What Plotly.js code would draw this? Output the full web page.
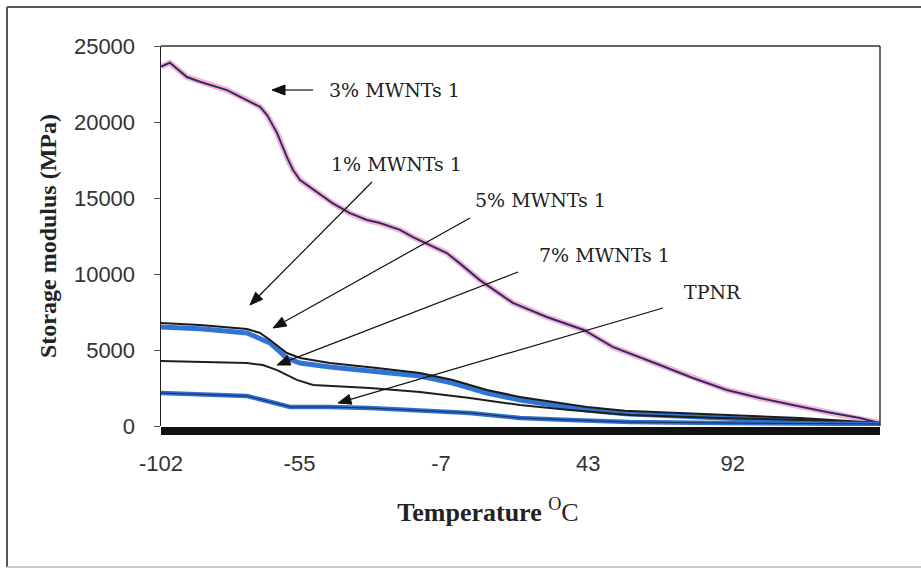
<!DOCTYPE html>
<html>
<head>
<meta charset="utf-8">
<script src="https://cdn.plot.ly/plotly-3.0.1.min.js"></script>
<style>html,body{margin:0;padding:0;background:#fff;}#chart{width:921px;height:571px;}</style>
</head>
<body>
<div id="chart"></div>
<script>
// ---- data ----
const seriesNames = ["3% MWNTs 1", "1% MWNTs 1", "5% MWNTs 1", "7% MWNTs 1", "TPNR"];

const tempMWNT3 = [-102, -99, -93.2, -88.8, -79.6, -72.8, -68.4, -66.0, -62.6, -59.3, -57.2, -54.8, -49.1, -43.7, -37.9, -32.1, -27.7, -20.9, -16.5, -9.7, -5.0, -0.6, 6.2, 17.4, 23.2, 28.9, 41.5, 51.3, 67.3, 78.5, 90.0, 101.2, 112.4, 123.9, 135.1, 141.9];
const modMWNT3  = [23650, 23900, 22960, 22650, 22100, 21450, 21000, 20460, 19270, 17700, 16840, 16180, 15400, 14650, 14000, 13550, 13350, 12900, 12430, 11800, 11380, 10700, 9600, 8100, 7650, 7170, 6320, 5200, 4010, 3160, 2370, 1840, 1380, 920, 530, 200];

const tempMWNT1 = [-102, -88.8, -72.8, -68.4, -65.0, -59.3, -54.8, -44.7, -28.7, -14.1, -3.0, 8.6, 19.8, 31.0, 42.5, 55.4, 87.6, 114.8, 141.9];
const modMWNT1  = [6780, 6650, 6380, 6120, 5660, 4800, 4470, 4140, 3820, 3490, 3030, 2370, 1910, 1580, 1250, 1000, 720, 530, 200];

const tempMWNT5 = [-102, -88.8, -72.8, -65.0, -59.3, -54.8, -44.7, -28.7, -14.1, -3.0, 8.6, 19.8, 31.0, 42.5, 55.4, 87.6, 114.8, 141.9];
const modMWNT5  = [6510, 6400, 6120, 5460, 4470, 4140, 3880, 3550, 3290, 2830, 2170, 1710, 1380, 1050, 800, 530, 350, 100];

const tempMWNT7 = [-102, -72.8, -67.4, -62.6, -55.9, -50.4, -31.1, -14.1, 2.8, 19.8, 36.7, 57.1, 87.6, 114.8, 141.9];
const modMWNT7  = [4280, 4140, 4010, 3680, 3030, 2700, 2500, 2240, 1840, 1380, 1050, 720, 530, 400, 200];

const tempTPNR  = [-102, -88.8, -72.8, -67.4, -58.2, -44.7, -31.1, 2.8, 19.8, 36.7, 57.1, 87.6, 141.9];
const modTPNR   = [2170, 2100, 1970, 1710, 1250, 1250, 1180, 860, 530, 400, 260, 200, 130];

const xTickVals = [-102, -55, -7, 43, 92];
const xTickText = ["-102", "-55", "-7", "43", "92"];
const yTickVals = [0, 5000, 10000, 15000, 20000, 25000];
const yTickText = ["0", "5000", "10000", "15000", "20000", "25000"];

// ---- chart ----
const traces = [
  {x: tempMWNT3, y: modMWNT3, mode: "lines", line: {color: "rgba(240,150,190,0.7)", width: 6}, hoverinfo: "skip", name: seriesNames[0]},
  {x: tempMWNT3, y: modMWNT3, mode: "lines", line: {color: "#2e2b6e", width: 2}, name: seriesNames[0]},
  {x: tempMWNT5, y: modMWNT5, mode: "lines", line: {color: "#2f74d6", width: 5}, name: seriesNames[2]},
  {x: tempMWNT1, y: modMWNT1, mode: "lines", line: {color: "#1a1a1a", width: 2}, name: seriesNames[1]},
  {x: tempMWNT7, y: modMWNT7, mode: "lines", line: {color: "#1f1f14", width: 2}, name: seriesNames[3]},
  {x: tempTPNR,  y: modTPNR,  mode: "lines", line: {color: "#2f6fd0", width: 4.5}, name: seriesNames[4]},
  {x: tempTPNR,  y: modTPNR,  mode: "lines", line: {color: "#1c2a5a", width: 1}, hoverinfo: "skip", name: seriesNames[4]}
];

// layout helpers: pixel -> paper coordinates
const px = v => (v - 161) / 719;
const py = v => (426 - v) / 380;

// arrow (line + filled head) as shapes, given tail and head in pixels
function arrowShapes(tx, ty, hx, hy) {
  const dx = hx - tx, dy = hy - ty, L = Math.hypot(dx, dy);
  const ux = dx / L, uy = dy / L, nx = -uy, ny = ux;
  const len = 13, hw = 5;
  const bx = hx - ux * len, by = hy - uy * len;
  const p1 = [bx + nx * hw, by + ny * hw], p2 = [bx - nx * hw, by - ny * hw];
  return [
    {type: "line", xref: "paper", yref: "paper", x0: px(tx), y0: py(ty), x1: px(bx), y1: py(by), line: {color: "#111", width: 1.2}},
    {type: "path", xref: "paper", yref: "paper",
     path: `M${px(hx)},${py(hy)} L${px(p1[0])},${py(p1[1])} L${px(p2[0])},${py(p2[1])} Z`,
     fillcolor: "#111", line: {color: "#111", width: 1}}
  ];
}

const labelFont = {family: "DejaVu Serif", size: 19, color: "#222"};

const shapes = [
  {type: "line", xref: "paper", yref: "paper", x0: 0, x1: 1, y0: 1, y1: 1, line: {color: "#333", width: 1.5}},
  {type: "line", xref: "paper", yref: "paper", x0: 1, x1: 1, y0: 0, y1: 1, line: {color: "#333", width: 1.5}},
  {type: "rect", xref: "paper", yref: "paper", x0: 0, x1: 1, y0: py(427), y1: py(435), fillcolor: "#111", line: {width: 0}},
  {type: "line", xref: "paper", yref: "paper", x0: px(7), x1: px(930), y0: py(7), y1: py(7), line: {color: "#555", width: 2}},
  {type: "line", xref: "paper", yref: "paper", x0: px(7), x1: px(7), y0: py(7), y1: py(567), line: {color: "#555", width: 2}},
  {type: "line", xref: "paper", yref: "paper", x0: px(7), x1: px(930), y0: py(567), y1: py(567), line: {color: "#bbb", width: 1.5}}
].concat(
  arrowShapes(313, 90, 272, 90),
  arrowShapes(372, 182, 250, 305),
  arrowShapes(470, 218, 273, 328),
  arrowShapes(518, 272, 277, 365),
  arrowShapes(663, 308, 338, 403)
);

const pad = "&nbsp;".repeat(10); // shifts the centred title left, as in the reference

const layout = {
  width: 921, height: 571,
  margin: {l: 161, r: 41, t: 46, b: 145},
  paper_bgcolor: "#ffffff", plot_bgcolor: "#ffffff",
  showlegend: false,
  xaxis: {
    range: [-102, 142], tickvals: xTickVals, ticktext: xTickText,
    showgrid: false, zeroline: false, showline: false, ticks: "",
    tickfont: {family: "Liberation Sans", size: 22, color: "#333"},
    ticklabelstandoff: 22,
    title: {text: "<b>Temperature</b> <sup>O</sup>C" + pad, font: {family: "Liberation Serif", size: 26, color: "#222"}, standoff: 27}
  },
  yaxis: {
    range: [0, 25000], tickvals: yTickVals, ticktext: yTickText,
    showgrid: false, zeroline: false, showline: true, linecolor: "#222", linewidth: 1.5,
    ticks: "outside", ticklen: 6, tickcolor: "#555",
    tickfont: {family: "Liberation Sans", size: 22, color: "#333"},
    ticklabelstandoff: 14,
    title: {text: "<b>Storage modulus (MPa)</b>", font: {family: "Liberation Serif", size: 24, color: "#222"}, standoff: 10}
  },
  shapes: shapes,
  annotations: [
    {xref: "paper", yref: "paper", x: px(327), y: py(90), xanchor: "left", yanchor: "middle", showarrow: false, text: seriesNames[0], font: labelFont},
    {xref: "paper", yref: "paper", x: px(329), y: py(164), xanchor: "left", yanchor: "middle", showarrow: false, text: seriesNames[1], font: labelFont},
    {xref: "paper", yref: "paper", x: px(473), y: py(200), xanchor: "left", yanchor: "middle", showarrow: false, text: seriesNames[2], font: labelFont},
    {xref: "paper", yref: "paper", x: px(537), y: py(255), xanchor: "left", yanchor: "middle", showarrow: false, text: seriesNames[3], font: labelFont},
    {xref: "paper", yref: "paper", x: px(682), y: py(292), xanchor: "left", yanchor: "middle", showarrow: false, text: seriesNames[4], font: labelFont}
  ]
};

Plotly.newPlot("chart", traces, layout, {staticPlot: true, displayModeBar: false});
</script>
</body>
</html>
